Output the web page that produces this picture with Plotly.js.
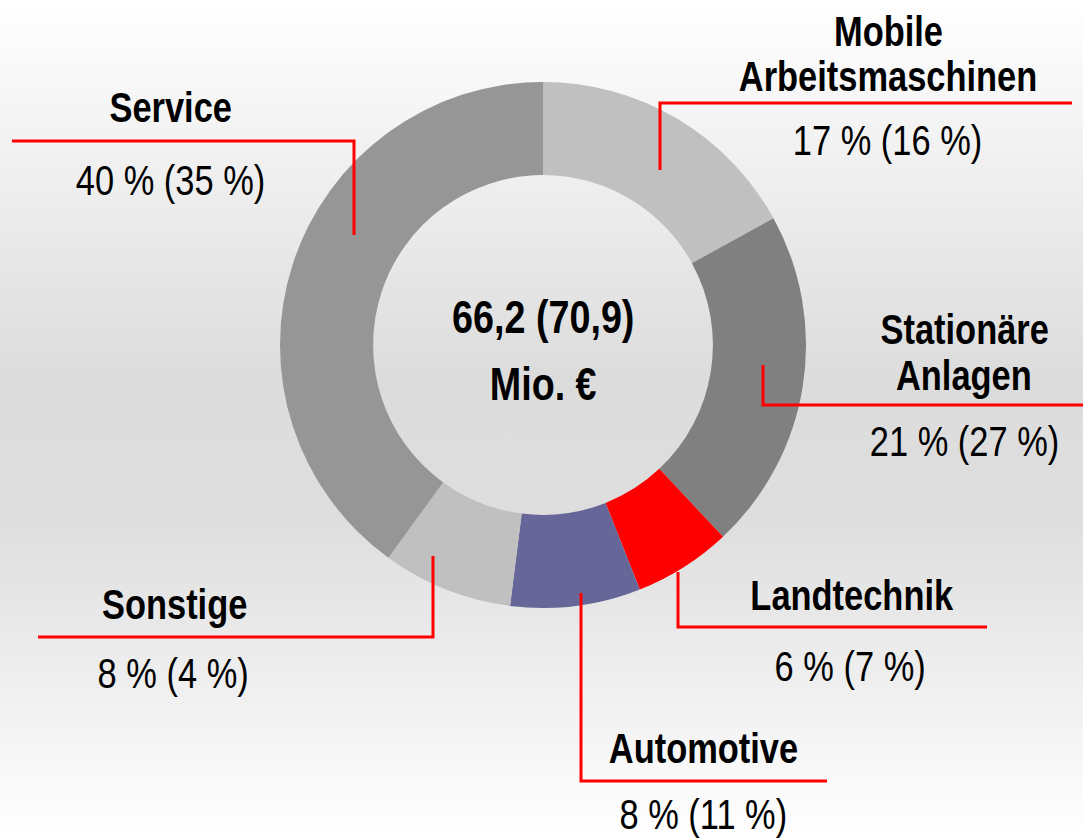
<!DOCTYPE html>
<html>
<head>
<meta charset="utf-8">
<script src="https://cdn.plot.ly/plotly-3.0.1.min.js"></script>
<style>
  html, body { margin: 0; padding: 0; }
  body { width: 1083px; height: 838px; overflow: hidden;
         background: linear-gradient(to bottom, #ffffff 0%, #ececec 25%, #dcdcdc 45%, #dedede 62%, #ffffff 100%); }
  #chart { width: 1083px; height: 838px; }
</style>
</head>
<body>
<div id="chart"></div>
<script>
// Data
const categories = ["Mobile<br>Arbeitsmaschinen", "Stationäre<br>Anlagen", "Landtechnik", "Automotive", "Sonstige", "Service"];
const shares = [17, 21, 6, 8, 8, 40];
const sharesPrev = [16, 27, 7, 11, 4, 35];
const colors = ["#c0c0c0", "#808080", "#ff0000", "#666699", "#c0c0c0", "#969696"];
const centerLines = ["66,2 (70,9)", "Mio. €"];

const W = 1083, H = 838;
const px = x => x / W;
const py = y => 1 - y / H;

const FONT = '"Liberation Sans", Arial, sans-serif';
const NARROW = 0.82; // horizontal condensing of all texts
const LINE_GAP = 46; // px between lines of a two-line name

// Donut geometry (pixels)
const cx = 543, cy = 345, R = 263;

// Label placement (pixels): [name x, name y (last line), value x, value y]
const labelPos = [
  [888, 77, 887, 140],
  [964, 375, 964, 442],
  [852, 595, 850, 666],
  [703, 748, 703, 814],
  [174, 604, 173, 673],
  [170, 107, 170, 180]
];

// Leader lines (pixel polylines)
const leaders = [
  [[660, 170], [660, 103], [1072, 103]],
  [[763, 365], [763, 405], [1083, 405]],
  [[678, 572], [678, 627], [987, 627]],
  [[581, 593], [581, 781], [827, 781]],
  [[433, 556], [433, 637], [38, 637]],
  [[354, 235], [354, 141], [12, 141]]
];

const trace = {
  type: 'pie',
  values: shares,
  labels: categories,
  marker: { colors: colors, line: { width: 0 } },
  hole: 0.646,
  sort: false,
  direction: 'clockwise',
  rotation: 0,
  textinfo: 'none',
  hoverinfo: 'skip',
  showlegend: false,
  domain: { x: [px(cx - R), px(cx + R)], y: [py(cy + R), py(cy - R)] }
};

const annotations = [];
categories.forEach((c, i) => {
  const p = labelPos[i];
  const lines = c.split('<br>');
  lines.forEach((ln, k) => {
    const yy = p[1] - (lines.length - 1 - k) * LINE_GAP;
    annotations.push({
      xref: 'paper', yref: 'paper', x: px(p[0]), y: py(yy),
      xanchor: 'center', yanchor: 'middle', showarrow: false,
      text: ln,
      font: { family: FONT, size: 42, color: '#000000', weight: 'bold' }
    });
  });
  annotations.push({
    xref: 'paper', yref: 'paper', x: px(p[2]), y: py(p[3]),
    xanchor: 'center', yanchor: 'middle', showarrow: false,
    text: shares[i] + ' % (' + sharesPrev[i] + ' %)',
    font: { family: FONT, size: 42, color: '#000000' }
  });
});
annotations.push({
  xref: 'paper', yref: 'paper', x: px(543), y: py(317),
  xanchor: 'center', yanchor: 'middle', showarrow: false,
  text: centerLines[0],
  font: { family: FONT, size: 46, color: '#000000', weight: 'bold' }
});
annotations.push({
  xref: 'paper', yref: 'paper', x: px(543), y: py(384),
  xanchor: 'center', yanchor: 'middle', showarrow: false,
  text: centerLines[1],
  font: { family: FONT, size: 46, color: '#000000', weight: 'bold' }
});

const shapes = [];
leaders.forEach(pts => {
  let path = 'M ' + px(pts[0][0]) + ',' + py(pts[0][1]);
  for (let k = 1; k < pts.length; k++) path += ' L ' + px(pts[k][0]) + ',' + py(pts[k][1]);
  shapes.push({ type: 'path', xref: 'paper', yref: 'paper', path: path,
                line: { color: '#ff0000', width: 3 } });
});

const layout = {
  width: W, height: H,
  margin: { l: 0, r: 0, t: 0, b: 0 },
  paper_bgcolor: 'rgba(0,0,0,0)',
  plot_bgcolor: 'rgba(0,0,0,0)',
  annotations: annotations,
  shapes: shapes
};

Plotly.newPlot('chart', [trace], layout, { displayModeBar: false, staticPlot: true }).then(gd => {
  gd.querySelectorAll('text.annotation-text').forEach(t => {
    const b = t.getBBox();
    const c = b.x + b.width / 2;
    t.setAttribute('transform', 'translate(' + c + ',0) scale(' + NARROW + ',1) translate(' + (-c) + ',0)');
  });
});
</script>
</body>
</html>
